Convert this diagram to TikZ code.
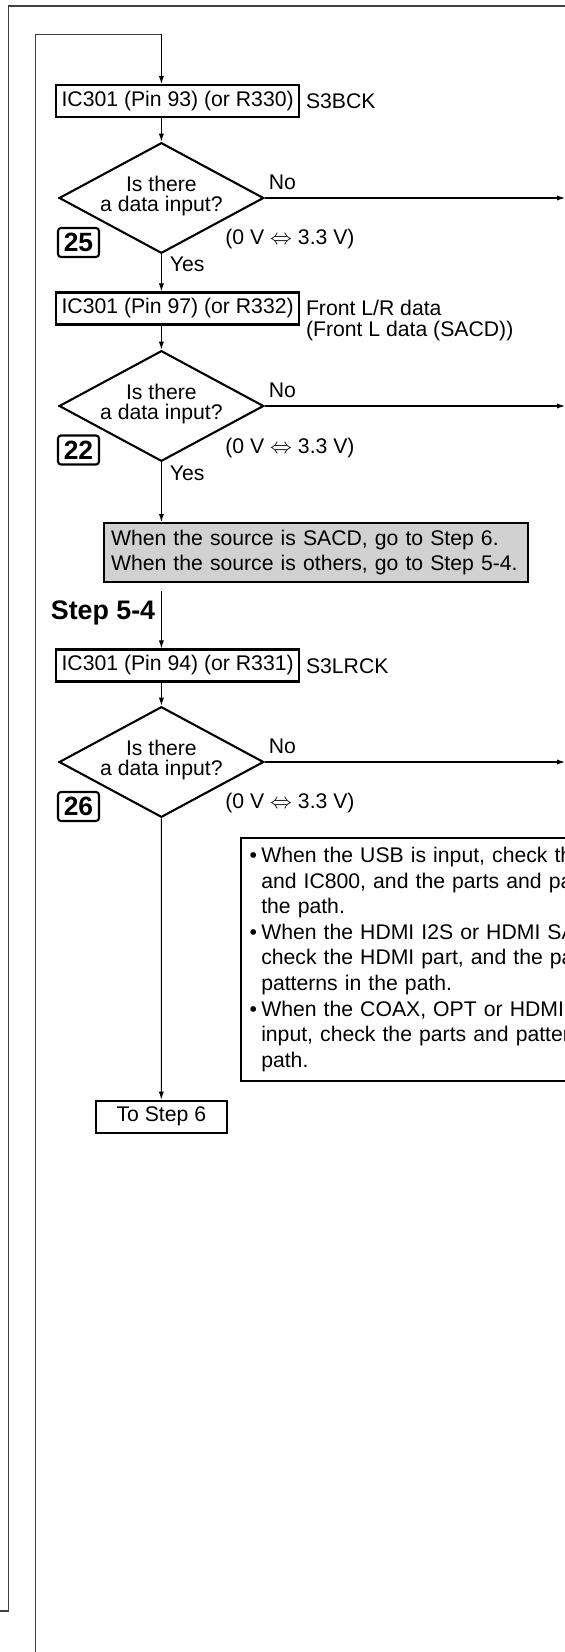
\documentclass[tikz,border=0pt]{standalone}
\usepackage{fontspec}
\setmainfont{Liberation Sans}
\usetikzlibrary{shapes.geometric, arrows.meta}

\tikzset{
  checkbox/.style={draw, line width=1.05pt, inner sep=0pt, minimum width=121.5pt, minimum height=16pt, anchor=west},
  query/.style={draw, diamond, line width=1.05pt, inner sep=0pt, aspect=1.85, minimum width=102pt, minimum height=55pt, align=center, text depth=4.5pt, font=\fontsize{10.6}{10}\selectfont},
  pointno/.style={draw, line width=1.05pt, rounded corners=1.5pt, inner sep=0pt, minimum width=20.5pt, minimum height=14.5pt, font=\fontsize{13.2}{14}\bfseries\selectfont},
  tag/.style={anchor=west, inner sep=0pt},
  flow/.style={->, line width=0.55pt},
  frameline/.style={line width=0.75pt, black!75},
}

\begin{document}
\begin{tikzpicture}[>={Latex[length=4pt,width=2.6pt]}, x=0.5pt, y=-0.5pt, every node/.style={font=\fontsize{10.6}{12.8}\selectfont}]
  \useasboundingbox (0,0) rectangle (565,1652);
  \clip (0,0) rectangle (565,1652);
  % frame and return line
  \draw[frameline] (0,1611) -| (8.6,6) -- (565,6);
  \coordinate (edge) at (565,0);
  \coordinate (loopbot) at (35.3,1652);
  \coordinate (looptop) at (161.4,34.3);
  \draw[frameline] (loopbot) |- (looptop);

  % S3BCK
  \node[checkbox] (ic93) at (55.1,101) {IC301 (Pin 93) (or R330)};
  \node[tag] (s3bck) at (305.6,101.5) {S3BCK};
  \node[query] (q25) at (161.4,198) {Is there\\a data input?};
  \node[tag] (no25) at (268.5,182.2) {No};
  \node[tag] (v25) at (225,238.7) {(0 V $\Leftrightarrow$ 3.3 V)};
  \node[pointno] (p25) at (78.5,242.5) {25};
  \node[tag] (yes25) at (169.4,264.7) {Yes};

  % front data
  \node[checkbox] (ic97) at (55.1,308.5) {IC301 (Pin 97) (or R332)};
  \node[tag, anchor=north west, align=left, font=\fontsize{10.6}{10.6}\selectfont] (front) at (305.6,300) {Front L/R data\\(Front L data (SACD))};
  \node[query] (q22) at (161.4,406) {Is there\\a data input?};
  \node[tag] (no22) at (268.5,390) {No};
  \node[tag] (v22) at (225,448) {(0 V $\Leftrightarrow$ 3.3 V)};
  \node[pointno] (p22) at (78.5,450) {22};
  \node[tag] (yes22) at (169.4,473) {Yes};

  % source choice
  \node[draw, line width=1.05pt, fill=black!18, anchor=north west, inner xsep=3.5pt, inner ysep=3.6pt, text width=205pt, align=left, font=\fontsize{10.6}{12.5}\selectfont] (choice) at (103,522)
    {When the source is SACD, go to Step 6.\\When the source is others, go to Step 5-4.};

  % Step 5-4
  \node[tag, font=\fontsize{13.4}{15}\bfseries\selectfont] (step54) at (50.5,613.3) {Step 5-4};
  \node[checkbox] (ic94) at (55.1,665.5) {IC301 (Pin 94) (or R331)};
  \node[tag] (s3lrck) at (305.6,666) {S3LRCK};
  \node[query] (q26) at (161.4,762) {Is there\\a data input?};
  \node[tag] (no26) at (268.5,746) {No};
  \node[tag] (v26) at (225,803) {(0 V $\Leftrightarrow$ 3.3 V)};
  \node[pointno] (p26) at (78.5,806.5) {26};

  % note
  \node[draw, line width=1.05pt, anchor=north west, inner xsep=4.5pt, inner ysep=4.65pt, text width=300pt, align=left] (note) at (239.6,836.7)
    {\makebox[5.8pt][l]{•}When the USB is input, check the IC801\\
     \hspace*{5.8pt}and IC800, and the parts and patterns in\\
     \hspace*{5.8pt}the path.\\
     \makebox[5.8pt][l]{•}When the HDMI I2S or HDMI SACD is input,\\
     \hspace*{5.8pt}check the HDMI part, and the parts and\\
     \hspace*{5.8pt}patterns in the path.\\
     \makebox[5.8pt][l]{•}When the COAX, OPT or HDMI PCM is\\
     \hspace*{5.8pt}input, check the parts and patterns in the\\
     \hspace*{5.8pt}path.};

  \node[draw, line width=1.05pt, inner sep=0pt, minimum width=65.75pt, minimum height=16pt] (tostep6) at (161.3,1116.7) {To Step 6};

  % connectors
  \draw[flow] (looptop) -- (looptop |- ic93.north);
  \draw[flow] (ic93.south -| q25) -- (q25.north);
  \draw[flow] (q25.south) -- (q25.south |- ic97.north);
  \draw[flow] (ic97.south -| q22) -- (q22.north);
  \draw[flow] (q22.south) -- (q22.south |- choice.north);
  \draw[flow, shorten <=4pt] (choice.south -| q22) -- (q22 |- ic94.north);
  \draw[flow] (ic94.south -| q26) -- (q26.north);
  \draw[flow] (q26.south) -- (tostep6.north);
  \draw[flow] (q25.east) -- (q25.east -| edge);
  \draw[flow] (q22.east) -- (q22.east -| edge);
  \draw[flow] (q26.east) -- (q26.east -| edge);
\end{tikzpicture}
\end{document}
